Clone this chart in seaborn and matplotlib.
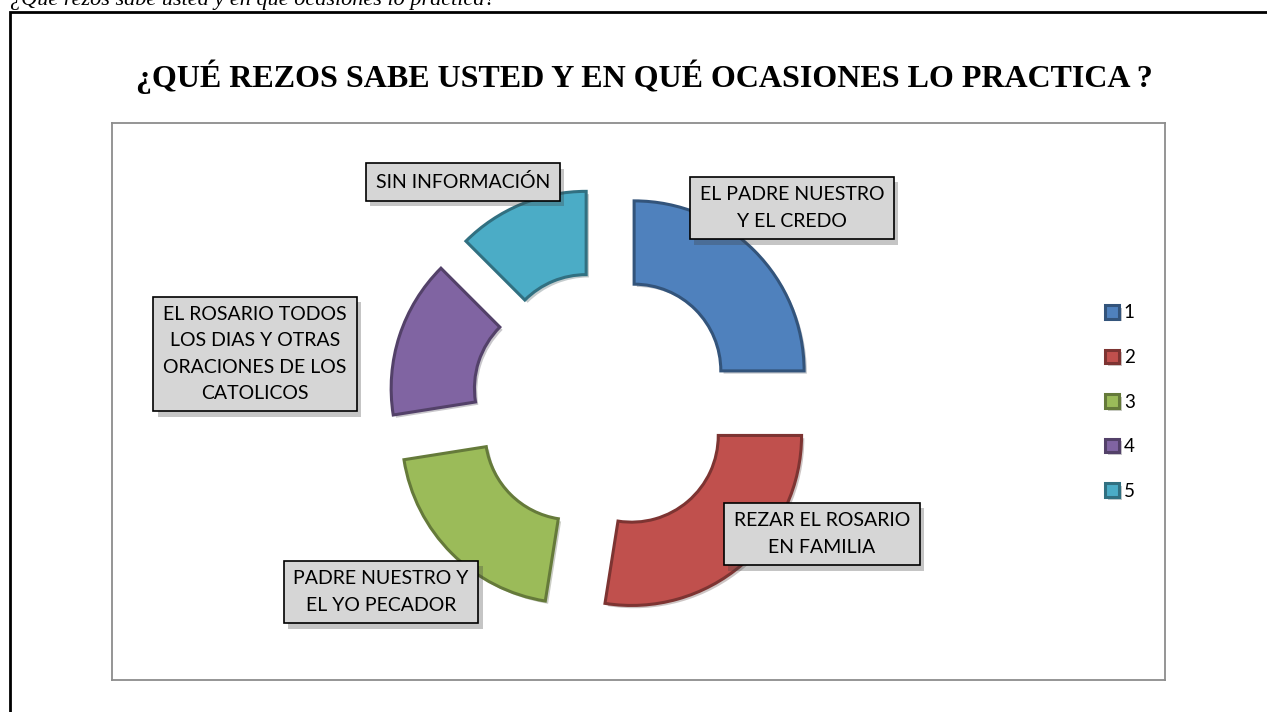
import matplotlib
matplotlib.use("Agg")
import matplotlib.pyplot as plt
import matplotlib.patheffects as pe
from matplotlib.colors import to_rgb
from matplotlib.patches import Rectangle
import seaborn as sns

# data (degrees 90/99/72/54/45 -> counts out of 40)
CATEGORIES = [
    "EL PADRE NUESTRO\nY EL CREDO",
    "REZAR EL ROSARIO\nEN FAMILIA",
    "PADRE NUESTRO Y\nEL YO PECADOR",
    "EL ROSARIO TODOS\nLOS DIAS Y OTRAS\nORACIONES DE LOS\nCATOLICOS",
    "SIN INFORMACIÓN",
]
VALUES = [10, 11, 8, 6, 5]
LEGEND_LABELS = ["1", "2", "3", "4", "5"]

TITLE = "¿QUÉ REZOS SABE USTED Y EN QUÉ OCASIONES LO PRACTICA ?"
CAPTION = "¿Qué rezos sabe usted y en qué ocasiones lo practica?"

# layout (pixels of the 1267x712 picture)
W, H = 1267, 712
CENTER = (603, 402)
RADIUS_PX = 170
PLOT_BOX = (112, 123, 1165, 680)
LABEL_POS = [(792, 208), (822, 534), (381, 592), (255, 354), (463, 182)]
COLORS = ["#4F81BD", "#C0504D", "#9BBB59", "#8064A2", "#4BACC6"]


def fx(x):
    return x / W


def fy(y):
    return 1 - y / H


def darker(c, f=0.65):
    r, g, b = to_rgb(c)
    return (r * f, g * f, b * f)


def main():
    sns.set_theme(style="white")
    plt.rcParams["font.family"] = ["Lato", "DejaVu Sans"]
    plt.rcParams["text.color"] = "black"
    palette = sns.color_palette(COLORS)

    fig = plt.figure(figsize=(W / 100, H / 100), dpi=100)

    # outer document frame
    fig.add_artist(Rectangle((fx(10), fy(712 + 20)), 2, fy(12) - fy(712 + 20),
                             transform=fig.transFigure, fill=False,
                             edgecolor="black", linewidth=2))
    fig.text(fx(10), fy(5), CAPTION, family="Liberation Serif", style="italic",
             fontsize=16, ha="left", va="baseline")

    fig.text(fx(644), fy(77), TITLE, family="Liberation Serif", weight="bold",
             fontsize=23, ha="center", va="center")

    x0, y0, x1, y1 = PLOT_BOX
    ax = fig.add_axes([fx(x0), fy(y1), fx(x1) - fx(x0), fy(y0) - fy(y1)])

    explode = [44 / RADIUS_PX] * len(VALUES)
    wedges, _ = ax.pie(
        VALUES,
        colors=palette,
        startangle=90,
        counterclock=False,
        explode=explode,
        radius=1,
        wedgeprops=dict(width=0.49, linewidth=2.2),
    )
    for w, c in zip(wedges, COLORS):
        w.set_edgecolor(darker(c))
        w.set_path_effects([pe.SimplePatchShadow(offset=(2, -2), alpha=0.25), pe.Normal()])

    cx, cy = CENTER
    ax.set_xlim(-(cx - x0) / RADIUS_PX, (x1 - cx) / RADIUS_PX)
    ax.set_ylim(-(y1 - cy) / RADIUS_PX, (cy - y0) / RADIUS_PX)
    ax.set_aspect("equal", adjustable="box")
    ax.set_xticks([])
    ax.set_yticks([])
    ax.set_frame_on(True)
    for s in ax.spines.values():
        s.set_visible(True)
        s.set_edgecolor("#8c8c8c")
        s.set_linewidth(1.3)

    for text, (lx, ly) in zip(CATEGORIES, LABEL_POS):
        t = fig.text(fx(lx), fy(ly), text, fontsize=14, ha="center", va="center",
                     multialignment="center", linespacing=1.65, color="black",
                     bbox=dict(boxstyle="square,pad=0.5", facecolor="#d6d6d6",
                               edgecolor="black", linewidth=1.2))
        t.get_bbox_patch().set_path_effects(
            [pe.SimplePatchShadow(offset=(3, -4), alpha=0.3), pe.Normal()])

    fig.legend(wedges, LEGEND_LABELS, loc="center left",
               bbox_to_anchor=(fx(1105), fy(402)), frameon=False,
               fontsize=13.5, handlelength=0.75, handleheight=0.75,
               handletextpad=0.25, labelspacing=1.47, borderpad=0,
               borderaxespad=0, labelcolor="black")

    fig.savefig("out.png", dpi=100)
    plt.close(fig)


if __name__ == "__main__":
    main()
